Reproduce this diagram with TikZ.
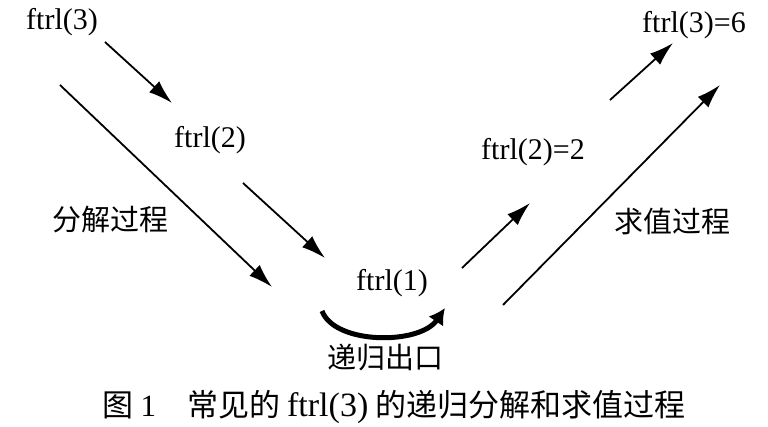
\documentclass[tikz,border=0pt]{standalone}
\usepackage{fontspec}
\setmainfont{Liberation Serif}
\newfontfamily\cjk{Noto Sans CJK SC}
\usetikzlibrary{arrows.meta}
\tikzset{
  lbl/.style={font=\fontsize{30}{32}\selectfont, inner sep=0pt},
  cn/.style={font=\cjk\fontsize{29}{31}\selectfont, inner sep=0pt},
  flow/.style={line width=1.8pt, -{Latex[length=24pt,width=15pt]}}
}
\begin{document}
\begin{tikzpicture}[x=1pt, y=-1pt]
 \useasboundingbox (0,0) rectangle (768,427);

 %%%%%%%%%% Texts %%%%%%%%%%
 \node[lbl] (f3) at (62,22) {ftrl(3)};
 \node[lbl] (f2) at (210,140) {ftrl(2)};
 \node[lbl] (f1) at (392,283) {ftrl(1)};
 \node[lbl] (r2) at (533,152) {ftrl(2)=2};
 \node[lbl] (r3) at (694,25) {ftrl(3)=6};
 \node[cn] (fj) at (110,220) {分解过程};
 \node[cn] (qz) at (672,222) {求值过程};
 \node[cn] (ck) at (385,357) {递归出口};
 \node[cn, font=\cjk\fontsize{31}{33}\selectfont] (cap) at (394,407) {图 {\rmfamily 1}\quad 常见的 {\rmfamily\fontsize{34}{36}\selectfont ftrl(3)} 的递归分解和求值过程};

 %%%%%%%%%% Points %%%%%%%%%%
 \coordinate (a1) at (105,42);  \coordinate (a2) at (172,103);
 \coordinate (b1) at (243,183); \coordinate (b2) at (325,258);
 \coordinate (c1) at (60,85);   \coordinate (c2) at (272,287);
 \coordinate (d1) at (462,268); \coordinate (d2) at (530,203);
 \coordinate (e1) at (610,100); \coordinate (e2) at (673,43);
 \coordinate (g1) at (503,305); \coordinate (g2) at (720,85);
 \coordinate (h1) at (322,311); \coordinate (h2) at (445,308);

 %%%%%%%%%% Arrows %%%%%%%%%%
 \draw[flow] (a1) -- (a2);
 \draw[flow] (b1) -- (b2);
 \draw[flow] (c1) -- (c2);
 \draw[flow] (d1) -- (d2);
 \draw[flow] (e1) -- (e2);
 \draw[flow] (g1) -- (g2);
 \draw[line width=5pt, -{Latex[length=16pt,width=18pt]}] (h1) .. controls (335,345) and (420,345) .. (h2);
\end{tikzpicture}
\end{document}
